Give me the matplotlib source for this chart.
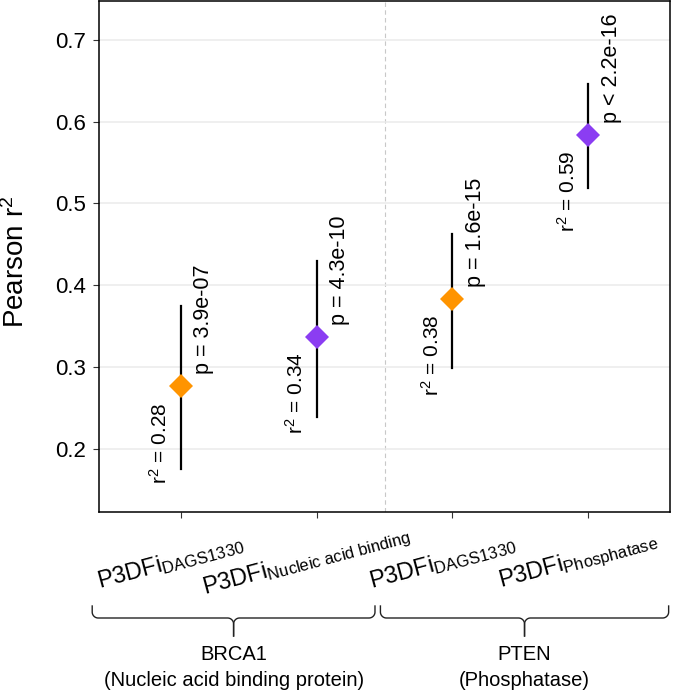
import numpy as np
import matplotlib
matplotlib.use("Agg")
import matplotlib.pyplot as plt
from matplotlib.transforms import blended_transform_factory, ScaledTranslation

# --- data ---
genes = ["BRCA1", "BRCA1", "PTEN", "PTEN"]
models = ["DAGS1330", "Nucleic acid binding", "DAGS1330", "Phosphatase"]
r2 = [0.276, 0.337, 0.383, 0.584]
r2_low = [0.175, 0.238, 0.298, 0.519]
r2_high = [0.374, 0.430, 0.463, 0.646]
r2_labels = ["0.28", "0.34", "0.38", "0.59"]
p_labels = ["p = 3.9e-07", "p = 4.3e-10", "p = 1.6e-15", "p < 2.2e-16"]
group_names = ["BRCA1", "PTEN"]
group_desc = ["(Nucleic acid binding protein)", "(Phosphatase)"]

ORANGE = "#FF9400"
PURPLE = "#8B3DF2"

plt.rcParams["font.family"] = ["Liberation Sans", "DejaVu Sans"]
plt.rcParams["mathtext.fontset"] = "custom"
plt.rcParams["mathtext.rm"] = "Liberation Sans"
plt.rcParams["mathtext.it"] = "Liberation Sans:italic"
plt.rcParams["mathtext.bf"] = "Liberation Sans:bold"

W, H, DPI = 677, 697, 100
fig = plt.figure(figsize=(W / DPI, H / DPI), dpi=DPI)
ax = fig.add_axes([99 / W, 1 - 512 / H, 571 / W, 511.5 / H])

x = np.arange(1, len(models) + 1)
ax.set_xlim(0.4, 4.6)
ax.set_ylim(0.1223, 0.7484)

ax.set_yticks([0.2, 0.3, 0.4, 0.5, 0.6, 0.7])
ax.yaxis.grid(True, color="#EBEBEB", linewidth=1.1)
ax.set_axisbelow(True)
ax.axvline(2.5, color="#C8C8C8", linestyle=(0, (4, 3)), linewidth=0.8, zorder=0)

for i in range(len(models)):
    col = ORANGE if models[i] == "DAGS1330" else PURPLE
    ax.plot([x[i], x[i]], [r2_low[i], r2_high[i]], color="black", linewidth=1.6, zorder=2)
    ax.plot(x[i], r2[i], marker="D", markersize=12.5, color=col,
            markeredgewidth=0, zorder=3)
    ax.annotate("r$^2$ = " + r2_labels[i], (x[i], r2[i]), xytext=(-21, -16),
                textcoords="offset pixels", rotation=90, ha="center", va="top",
                fontsize=15)
    ax.annotate(p_labels[i], (x[i], r2[i]), xytext=(23, 12),
                textcoords="offset pixels", rotation=90, ha="center", va="bottom",
                fontsize=15.5)

# x tick labels with subscripts
ax.set_xticks(x)
labels = ["P3DFi$_{\\mathrm{" + m.replace(" ", "\\ ") + "}}$" for m in models]
ax.set_xticklabels(labels, rotation=15, rotation_mode="anchor",
                   ha="center", va="center", fontsize=17)
ax.tick_params(axis="x", pad=32, length=4, color="#333333")
ax.tick_params(axis="y", labelsize=16, length=4, color="#333333", pad=5)
shift = ScaledTranslation(-10 / DPI, 0, fig.dpi_scale_trans)
for lab in ax.get_xticklabels():
    lab.set_transform(lab.get_transform() + shift)

for sp in ax.spines.values():
    sp.set_color("black")
    sp.set_linewidth(1.1)

ax.set_ylabel("Pearson r$^2$", fontsize=20)
ax.yaxis.set_label_coords(-0.12, 0.49)

# --- curly braces grouping the models by gene ---
tr = blended_transform_factory(ax.transData, fig.transFigure)
px_per_unit = 571 / 4.2


def brace(x0, x1, y_line, y_top, y_tip, r_px=6):
    xm = (x0 + x1) / 2
    rx = r_px / px_per_unit
    ry = r_px / H
    t = np.linspace(0, np.pi / 2, 20)
    xs = [x0] + list(x0 + rx - rx * np.cos(t)) + list(xm - rx + rx * np.sin(t)) + [xm]
    ys = [y_top] + list(y_line + ry - ry * np.sin(t)) + list(y_line - ry + ry * np.cos(t)) + [y_tip]
    xs = np.array(xs)
    ys = np.array(ys)
    for xx in (xs, x0 + x1 - xs):
        ax.plot(xx, ys, color="#222222", linewidth=1.0, transform=tr, clip_on=False)
    return xm


spans = [(0.35, 2.43), (2.47, 4.59)]
for (x0, x1), name, desc in zip(spans, group_names, group_desc):
    xm = brace(x0, x1, (H - 618) / H, (H - 606) / H, (H - 636) / H)
    ax.text(xm, (H - 645) / H, name + "\n" + desc, transform=tr, ha="center",
            va="top", fontsize=14.5, linespacing=1.5)

fig.savefig("out.png", dpi=DPI)
